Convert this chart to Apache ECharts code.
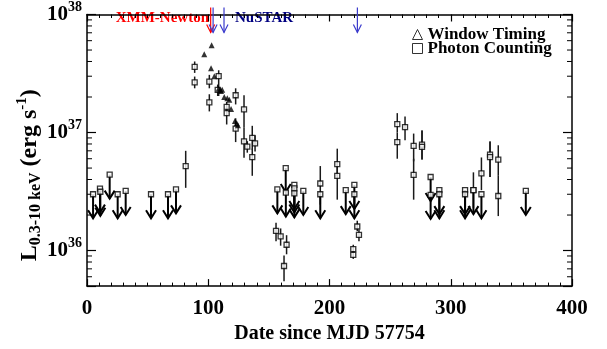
<!DOCTYPE html>
<html>
<head>
<meta charset="utf-8">
<script src="https://cdn.jsdelivr.net/npm/echarts@6/dist/echarts.min.js"></script>
<style>
  html, body { margin: 0; padding: 0; background: #fff; }
  #chart { width: 607px; height: 349px; }
</style>
</head>
<body>
<div id="chart"></div>
<script>
// Luminosities in units of 1e36 erg/s
const FONT = '"Liberation Serif", "Times New Roman", serif';

// Photon Counting detections: day, L, lower / upper error
const pcDays = [81.4, 88.8, 88.8, 100.9, 100.9, 108.6, 107.8, 122.6, 115.2, 115.2, 122.6, 129.5, 129.5, 132.2,
  136.3, 138.6, 136.3, 155.9, 159.7, 164.6, 162.5, 192.4, 206.4, 206.4, 222.9, 224.3, 219.6, 219.6,
  255.9, 255.9, 262.3, 269.4, 269.4, 276.3, 276.3, 318.7, 325.3, 332.4, 332.4, 339.2, 339.2];
const pcLum = [5.2, 36, 26.6, 27, 18, 30, 23, 20.7, 16.5, 14.6, 10.8, 15.7, 8.4, 7.6,
  9.0, 8.1, 6.2, 1.47, 1.32, 1.12, 0.74, 3.7, 5.4, 4.3, 1.6, 1.36, 1.03, 0.92,
  11.8, 8.3, 11.1, 7.7, 4.37, 7.9, 7.55, 3.25, 4.5, 6.5, 6.2, 5.9, 2.9];
const pcLo = [3.4, 32, 23.7, 23.7, 15.1, 20.4, 20.4, 17.3, 14.8, 11.7, 8.3, 11.0, 6.1, 6.75,
  7.15, 6.9, 4.3, 1.2, 1.1, 0.93, 0.55, 2.45, 4.3, 2.7, 1.46, 1.2, 0.95, 0.85,
  10.0, 6.0, 8.6, 5.7, 2.7, 5.9, 5.9, 2.3, 3.25, 4.2, 4.2, 4.3, 1.96];
const pcHi = [7.0, 40, 29.8, 30.8, 21.1, 33.7, 25.5, 23.7, 18.2, 16.3, 13.2, 20.7, 11.0, 8.45,
  11.4, 9.5, 7.3, 1.72, 1.54, 1.35, 0.91, 5.2, 7.3, 5.5, 1.79, 1.51, 1.12, 1.0,
  14.6, 10.0, 13.7, 9.8, 6.0, 10.4, 10.4, 4.6, 6.15, 8.4, 8.4, 7.8, 4.3];

// Window Timing detections
const wtDays = [96.7, 102.8, 102.3, 105, 108.5, 109.7, 110.5, 111.5, 113.2, 115.7, 117.4, 118.8, 122.0, 123.5, 124.5];
const wtLum = [46, 55, 35, 30, 23.5, 23, 22.5, 23, 20, 19.5, 19, 15.8, 12.5, 12, 11.5];

// Photon Counting upper limits
const ulDays = [5.0, 10.7, 11.0, 18.7, 25.3, 31.9, 52.8, 66.8, 73.4, 157.0, 163.9, 164.0, 171.0, 171.0, 171.0,
  178.4, 192.4, 213.4, 220.5, 220.5, 283.4, 283.4, 290.6, 290.6, 311.8, 311.8, 318.7, 325.3, 361.9];
const ulLum = [3.0, 3.35, 3.15, 4.4, 3.0, 3.2, 3.0, 3.0, 3.3, 3.3, 5.0, 3.1, 3.6, 3.36, 3.05,
  3.2, 3.0, 3.25, 3.6, 3.0, 4.2, 2.96, 3.25, 3.0, 3.25, 3.0, 3.25, 3.0, 3.2];

// Observation markers
const xmmDays = [102];
const nustarDays = [104, 113, 223];

const X_MIN = 0, X_MAX = 400, X_STEP = 100;
const Y_MIN = 0.5, Y_MAX = 100, Y_EXP0 = 36;

// log minor tick positions (2..9 x 10^n)
const minorVals = [];
for (let e = -1; e <= 1; e++) {
  for (let m = 2; m <= 9; m++) {
    const v = m * Math.pow(10, e);
    if (v > Y_MIN && v < Y_MAX) minorVals.push(v);
  }
}

function renderErrorBar(params, api) {
  const top = api.coord([api.value(0), api.value(2)]);
  const bot = api.coord([api.value(0), api.value(1)]);
  return {
    type: 'line',
    shape: { x1: top[0], y1: top[1], x2: bot[0], y2: bot[1] },
    style: { stroke: '#1a1a1a', lineWidth: 1.5 }
  };
}

function renderUpperLimit(params, api) {
  const p = api.coord([api.value(0), api.value(1)]);
  const tip = p[1] + 24;
  return {
    type: 'group',
    children: [
      { type: 'line', shape: { x1: p[0], y1: p[1], x2: p[0], y2: tip }, style: { stroke: '#000', lineWidth: 2 } },
      { type: 'polyline', shape: { points: [[p[0] - 5, tip - 8], [p[0], tip], [p[0] + 5, tip - 8]] },
        style: { stroke: '#000', lineWidth: 2, fill: null } }
    ]
  };
}

function makeObsArrow(color) {
  return function (params, api) {
    const p = api.coord([api.value(0), Y_MAX]);
    const y0 = p[1] - 7, tip = p[1] + 18;
    return {
      type: 'group',
      children: [
        { type: 'line', shape: { x1: p[0], y1: y0, x2: p[0], y2: tip }, style: { stroke: color, lineWidth: 1.2 } },
        { type: 'polyline', shape: { points: [[p[0] - 4, tip - 8], [p[0], tip], [p[0] + 4, tip - 8]] },
          style: { stroke: color, lineWidth: 1.2, fill: null } }
      ]
    };
  };
}

function renderMinorTick(params, api) {
  const l = api.coord([X_MIN, api.value(1)]);
  const r = api.coord([X_MAX, api.value(1)]);
  return {
    type: 'group',
    children: [
      { type: 'line', shape: { x1: l[0], y1: l[1], x2: l[0] + 5, y2: l[1] }, style: { stroke: '#000', lineWidth: 1 } },
      { type: 'line', shape: { x1: r[0] - 5, y1: r[1], x2: r[0], y2: r[1] }, style: { stroke: '#000', lineWidth: 1 } }
    ]
  };
}

function yLabel(v) {
  const lg = Math.log10(v);
  const e = Math.round(lg);
  if (Math.abs(lg - e) > 0.01) return '';
  return '{b|10}{s|' + (e + Y_EXP0) + '}';
}

const axisLineStyle = { color: '#000', width: 1.5 };

const xAxisBase = {
  type: 'value', min: X_MIN, max: X_MAX, interval: X_STEP,
  axisLine: { onZero: false, lineStyle: axisLineStyle },
  axisTick: { inside: true, length: 7, lineStyle: { color: '#000', width: 1.2 } },
  minorTick: { show: true, splitNumber: 10, length: 3.5, lineStyle: { color: '#000', width: 1 } },
  splitLine: { show: false }, minorSplitLine: { show: false }
};

const yAxisBase = {
  type: 'log', logBase: 10, min: Y_MIN, max: Y_MAX,
  axisLine: { onZero: false, lineStyle: axisLineStyle },
  axisTick: { inside: true, length: 9, lineStyle: { color: '#000', width: 1.2 } },
  splitLine: { show: false }
};

const chart = echarts.init(document.getElementById('chart'), null, { renderer: 'canvas' });

const option = {
  backgroundColor: '#fff',
  animation: false,
  grid: { left: 87, right: 35, top: 7, bottom: 58 },
  xAxis: [
    Object.assign({}, xAxisBase, {
      position: 'bottom',
      name: 'Date since MJD 57754', nameLocation: 'middle', nameGap: 30,
      nameTextStyle: { fontFamily: FONT, fontWeight: 'bold', fontSize: 20, color: '#000' },
      axisLabel: { margin: 12, fontFamily: FONT, fontWeight: 'bold', fontSize: 21, color: '#000' }
    }),
    Object.assign({}, xAxisBase, { position: 'top', axisLabel: { show: false } })
  ],
  yAxis: [
    Object.assign({}, yAxisBase, {
      position: 'left',
      name: '{L|L}{sub|0.3-10 keV}{n| (erg s}{sup|-1}{n|)}',
      nameLocation: 'middle', nameRotate: 90, nameGap: 42, nameMoveOverlap: false,
      nameTextStyle: {
        padding: [0, 50, 0, 0],
        rich: {
          L: { fontFamily: FONT, fontWeight: 'bold', fontSize: 24, color: '#000' },
          n: { fontFamily: FONT, fontWeight: 'bold', fontSize: 24, color: '#000' },
          sub: { fontFamily: FONT, fontWeight: 'bold', fontSize: 16, color: '#000', padding: [11, 0, 0, 0] },
          sup: { fontFamily: FONT, fontWeight: 'bold', fontSize: 15, color: '#000', padding: [0, 0, 15, 0] }
        }
      },
      axisLabel: {
        margin: 5,
        formatter: yLabel,
        rich: {
          b: { fontFamily: FONT, fontWeight: 'bold', fontSize: 21, color: '#000' },
          s: { fontFamily: FONT, fontWeight: 'bold', fontSize: 14, color: '#000', padding: [0, 0, 15, 0] }
        }
      }
    }),
    Object.assign({}, yAxisBase, { position: 'right', axisLabel: { show: false } })
  ],
  legend: {
    orient: 'vertical', left: 407, top: 21,
    itemWidth: 10, itemHeight: 10, itemGap: -3,
    textStyle: { fontFamily: FONT, fontWeight: 'bold', fontSize: 17, color: '#000' },
    data: [
      { name: 'Window Timing', icon: 'triangle', itemStyle: { color: '#fff', borderColor: '#000', borderWidth: 1 } },
      { name: 'Photon Counting', icon: 'rect', itemStyle: { color: '#fff', borderColor: '#000', borderWidth: 1 } }
    ]
  },
  graphic: [
    { type: 'text', right: 607 - 209, top: 11,
      style: { text: 'XMM-Newton', fill: '#ff0000', font: 'bold 15px "Liberation Serif"' } },
    { type: 'text', left: 235, top: 11,
      style: { text: 'NuSTAR', fill: '#000080', font: 'bold 15px "Liberation Serif"' } }
  ],
  series: [
    {
      type: 'custom', name: 'minor', silent: true,
      renderItem: renderMinorTick,
      data: minorVals.map(v => [X_MIN, v])
    },
    {
      type: 'custom', name: 'pcErr', silent: true,
      renderItem: renderErrorBar,
      data: pcDays.map((d, i) => [d, pcLo[i], pcHi[i]])
    },
    {
      type: 'custom', name: 'ulArrow', silent: true, clip: false,
      renderItem: renderUpperLimit,
      data: ulDays.map((d, i) => [d, ulLum[i]])
    },
    {
      type: 'scatter', name: 'Photon Counting', symbol: 'rect', symbolSize: 5, z: 5,
      itemStyle: { color: '#fff', borderColor: '#000', borderWidth: 1.3 },
      data: pcDays.map((d, i) => [d, pcLum[i]])
    },
    {
      type: 'scatter', name: 'Photon Counting', symbol: 'rect', symbolSize: 5, z: 5,
      itemStyle: { color: '#fff', borderColor: '#000', borderWidth: 1.3 },
      data: ulDays.map((d, i) => [d, ulLum[i]])
    },
    {
      type: 'scatter', name: 'Window Timing', symbol: 'triangle', symbolSize: 6, z: 5,
      itemStyle: { color: '#000' },
      data: wtDays.map((d, i) => [d, wtLum[i]])
    },
    {
      type: 'custom', name: 'xmm', silent: true, clip: false,
      renderItem: makeObsArrow('#ff0000'),
      data: xmmDays.map(d => [d, Y_MAX])
    },
    {
      type: 'custom', name: 'nustar', silent: true, clip: false,
      renderItem: makeObsArrow('#3a3acc'),
      data: nustarDays.map(d => [d, Y_MAX])
    }
  ]
};

chart.setOption(option);
window.addEventListener('resize', () => chart.resize());
</script>
</body>
</html>
